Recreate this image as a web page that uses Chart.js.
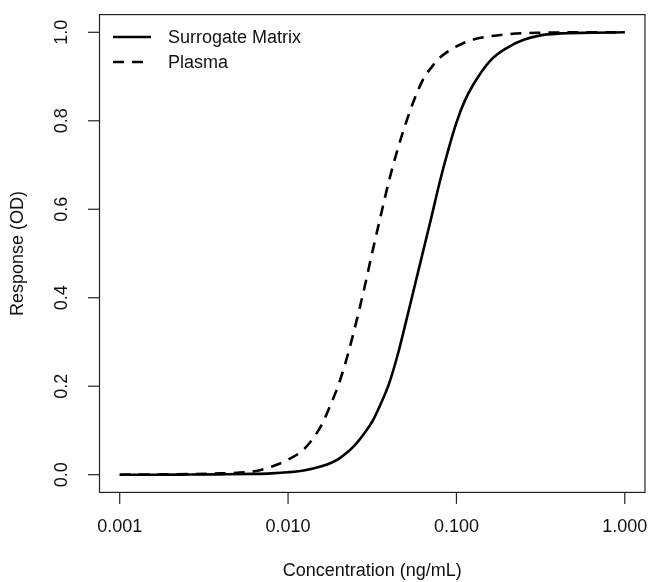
<!DOCTYPE html>
<html>
<head>
<meta charset="utf-8">
<script src="https://cdn.jsdelivr.net/npm/chart.js@4.4.1/dist/chart.umd.min.js"></script>
<style>
  html, body { margin: 0; padding: 0; background: #fff; }
  canvas { display: block; }
</style>
</head>
<body>
<canvas id="myChart" width="649" height="582"></canvas>
<script>
// concentration grid (ng/mL), log spaced
const concentration = [0.001, 0.00158, 0.00251, 0.00398, 0.00631, 0.00794, 0.01, 0.0126, 0.0158, 0.0178,
    0.02, 0.0224, 0.0251, 0.0282, 0.0316, 0.0355, 0.0398, 0.0447, 0.0501, 0.0562,
    0.0631, 0.0708, 0.0794, 0.0891, 0.1, 0.112, 0.126, 0.158, 0.2, 0.251,
    0.316, 0.398, 0.631, 1.0];

const surrogateMatrix = [0.0, 0.0, 0.0003, 0.0008, 0.0018, 0.003, 0.0055, 0.01, 0.019, 0.026,
    0.036, 0.05, 0.068, 0.092, 0.12, 0.16, 0.206, 0.27, 0.345, 0.423,
    0.502, 0.58, 0.66, 0.732, 0.796, 0.845, 0.882, 0.935, 0.965, 0.983,
    0.993, 0.997, 0.999, 1.0];

const plasma = [0.0, 0.0005, 0.0012, 0.003, 0.008, 0.018, 0.034, 0.06, 0.112, 0.156,
    0.205, 0.265, 0.337, 0.417, 0.502, 0.585, 0.665, 0.735, 0.795, 0.848,
    0.892, 0.92, 0.942, 0.957, 0.968, 0.977, 0.9835, 0.991, 0.9955, 0.998,
    0.999, 0.9995, 1.0, 1.0];

const xTicks = [0.001, 0.01, 0.1, 1];
const xTickLabels = ["0.001", "0.010", "0.100", "1.000"];
const yTicks = [0, 0.2, 0.4, 0.6, 0.8, 1.0];
const yTickLabels = ["0.0", "0.2", "0.4", "0.6", "0.8", "1.0"];

const xTitle = "Concentration (ng/mL)";
const yTitle = "Response (OD)";

const FONT = '18px "Liberation Sans", Arial, Helvetica, sans-serif';
const INK = "#111";

const toPoints = (ys) => concentration.map((c, i) => ({ x: c, y: ys[i] }));

// base-graphics style frame, ticks, labels and legend
const frame = {
    id: "frame",
    afterDraw(chart) {
        const { ctx, chartArea: a, scales } = chart;
        const xs = scales.x, ys = scales.y;
        ctx.save();
        ctx.strokeStyle = "#222";
        ctx.lineWidth = 1.2;
        ctx.strokeRect(a.left, a.top, a.right - a.left, a.bottom - a.top);

        ctx.fillStyle = INK;
        ctx.font = FONT;

        // x axis
        ctx.textAlign = "center";
        ctx.textBaseline = "middle";
        xTicks.forEach((v, i) => {
            const px = xs.getPixelForValue(v);
            ctx.beginPath();
            ctx.moveTo(px, a.bottom);
            ctx.lineTo(px, a.bottom + 11.5);
            ctx.stroke();
            ctx.fillText(xTickLabels[i], px, 527);
        });
        ctx.fillText(xTitle, (a.left + a.right) / 2, 571);

        // y axis, labels turned
        yTicks.forEach((v, i) => {
            const py = ys.getPixelForValue(v);
            ctx.beginPath();
            ctx.moveTo(a.left, py);
            ctx.lineTo(a.left - 11.5, py);
            ctx.stroke();
            ctx.save();
            ctx.translate(62, py);
            ctx.rotate(-Math.PI / 2);
            ctx.fillText(yTickLabels[i], 0, 0);
            ctx.restore();
        });
        ctx.save();
        ctx.translate(18, (a.top + a.bottom) / 2);
        ctx.rotate(-Math.PI / 2);
        ctx.fillText(yTitle, 0, 0);
        ctx.restore();

        // legend
        ctx.textAlign = "left";
        chart.data.datasets.forEach((ds, i) => {
            const y = 37 + i * 25;
            ctx.save();
            ctx.strokeStyle = ds.borderColor;
            ctx.lineWidth = ds.borderWidth;
            ctx.setLineDash(ds.borderDash || []);
            ctx.beginPath();
            ctx.moveTo(113, y);
            ctx.lineTo(151, y);
            ctx.stroke();
            ctx.restore();
            ctx.fillText(ds.label, 168, y + 1);
        });
        ctx.restore();
    }
};

const ctx = document.getElementById("myChart").getContext("2d");

const myChart = new Chart(ctx, {
    type: "line",
    data: {
        datasets: [
            {
                label: "Surrogate Matrix",
                data: toPoints(surrogateMatrix),
                borderColor: "#000",
                borderWidth: 2.6,
                pointRadius: 0,
                cubicInterpolationMode: "monotone",
                fill: false
            },
            {
                label: "Plasma",
                data: toPoints(plasma),
                borderColor: "#000",
                borderWidth: 2.6,
                borderDash: [11, 8],
                pointRadius: 0,
                cubicInterpolationMode: "monotone",
                fill: false
            }
        ]
    },
    options: {
        responsive: false,
        animation: false,
        layout: {
            padding: { left: 99.5, right: 4, top: 14.6, bottom: 89.6 }
        },
        plugins: {
            legend: { display: false },
            tooltip: { enabled: false }
        },
        scales: {
            x: {
                type: "logarithmic",
                min: Math.pow(10, -3.12),
                max: Math.pow(10, 0.12),
                display: false
            },
            y: {
                type: "linear",
                min: -0.04,
                max: 1.04,
                display: false
            }
        }
    },
    plugins: [frame]
});
</script>
</body>
</html>
